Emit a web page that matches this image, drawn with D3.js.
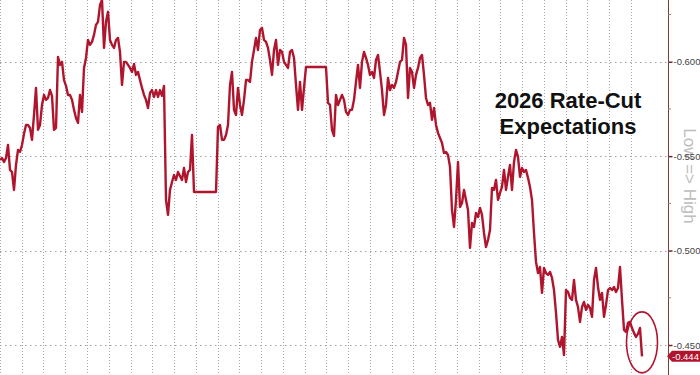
<!DOCTYPE html>
<html>
<head>
<meta charset="utf-8">
<script src="https://cdnjs.cloudflare.com/ajax/libs/d3/7.8.5/d3.min.js"></script>
<style>
  body { margin: 0; background: #fff; }
  svg { display: block; }
</style>
</head>
<body>
<svg id="chart" width="700" height="375"></svg>
<script>
// 2026 rate-cut expectations (samples, ~10.9 per weekly gridline)
var rate = [
  -0.5480, -0.5490, -0.5469, -0.5490, -0.5559, -0.5427, -0.5416, -0.5321, -0.5453, -0.5533,
  -0.5522, -0.5559, -0.5618, -0.5665, -0.5665, -0.5649, -0.5586, -0.5718, -0.5861, -0.5639,
  -0.5665, -0.5771, -0.5824, -0.5798, -0.5808, -0.5850, -0.5819, -0.5639, -0.5649, -0.6025,
  -0.5983, -0.5999, -0.5903, -0.5872, -0.5824, -0.5824, -0.5798, -0.5745, -0.5702, -0.5676,
  -0.5824, -0.5734, -0.5967, -0.6020, -0.6115, -0.6089, -0.6105, -0.6142, -0.6195, -0.6211,
  -0.6300, -0.6327, -0.6073, -0.6211, -0.6264, -0.6115, -0.6089, -0.6073, -0.6115, -0.6126,
  -0.6052, -0.5877, -0.5999, -0.5999, -0.5983, -0.5967, -0.5946, -0.5988, -0.5930, -0.5946,
  -0.5903, -0.5861, -0.5824, -0.5798, -0.5755, -0.5835, -0.5850, -0.5813, -0.5850, -0.5813,
  -0.5850, -0.5819, -0.5872, -0.5268, -0.5189, -0.5321, -0.5363, -0.5400, -0.5374, -0.5416,
  -0.5395, -0.5374, -0.5437, -0.5363, -0.5416, -0.5427, -0.5612, -0.5310, -0.5310, -0.5310,
  -0.5310, -0.5310, -0.5310, -0.5310, -0.5310, -0.5310, -0.5310, -0.5310, -0.5310, -0.5655,
  -0.5665, -0.5586, -0.5586, -0.5612, -0.5665, -0.5877, -0.5946, -0.5745, -0.5718, -0.5861,
  -0.5771, -0.5718, -0.5798, -0.5903, -0.5903, -0.5893, -0.5999, -0.6062, -0.6126, -0.6062,
  -0.6168, -0.6179, -0.6115, -0.6105, -0.6073, -0.6009, -0.5930, -0.6062, -0.6115, -0.5983,
  -0.6062, -0.6052, -0.5999, -0.5983, -0.5967, -0.6052, -0.6062, -0.6020, -0.5877, -0.5745,
  -0.5893, -0.5745, -0.5861, -0.5972, -0.5972, -0.5972, -0.5972, -0.5972, -0.5972, -0.5972,
  -0.5972, -0.5972, -0.5972, -0.5972, -0.5782, -0.5771, -0.5639, -0.5607, -0.5824, -0.5771,
  -0.5798, -0.5824, -0.5798, -0.5734, -0.5718, -0.5745, -0.5745, -0.5798, -0.5893, -0.5983,
  -0.5861, -0.5999, -0.6052, -0.6020, -0.5983, -0.5930, -0.5946, -0.5914, -0.6009, -0.6036,
  -0.5946, -0.5850, -0.5718, -0.5771, -0.5914, -0.5850, -0.5877, -0.5861, -0.5893, -0.5946,
  -0.5999, -0.6009, -0.6126, -0.6089, -0.5808, -0.5967, -0.5946, -0.5861, -0.5930, -0.5967,
  -0.6020, -0.6036, -0.5930, -0.5808, -0.5771, -0.5782, -0.5692, -0.5755, -0.5665, -0.5623,
  -0.5596, -0.5570, -0.5517, -0.5522, -0.5506, -0.5443, -0.5215, -0.5125, -0.5268, -0.5469,
  -0.5231, -0.5252, -0.5321, -0.5268, -0.5215, -0.5014, -0.5146, -0.5125, -0.5199, -0.5178,
  -0.5226, -0.5189, -0.5093, -0.5019, -0.5056, -0.5109, -0.5332, -0.5321, -0.5374, -0.5268,
  -0.5305, -0.5337, -0.5427, -0.5321, -0.5390, -0.5453, -0.5321, -0.5469, -0.5533, -0.5496,
  -0.5390, -0.5437, -0.5416, -0.5427, -0.5385, -0.5337, -0.5268, -0.5093, -0.4940, -0.4881,
  -0.4913, -0.4776, -0.4908, -0.4881, -0.4871, -0.4887, -0.4855, -0.4791, -0.4670, -0.4527,
  -0.4490, -0.4543, -0.4447, -0.4791, -0.4781, -0.4749, -0.4739, -0.4844, -0.4739, -0.4701,
  -0.4622, -0.4701, -0.4728, -0.4686, -0.4712, -0.4696, -0.4649, -0.4844, -0.4908, -0.4807,
  -0.4739, -0.4776, -0.4649, -0.4712, -0.4791, -0.4802, -0.4791, -0.4807, -0.4781, -0.4802,
  -0.4913, -0.4739, -0.4580, -0.4569, -0.4617, -0.4622, -0.4590, -0.4564, -0.4543, -0.4559,
  -0.4590, -0.4440
];

var samplesPerWeek = 10.875;
var weekCount = 30;
var majorTicks = [-0.600, -0.550, -0.500, -0.450];
var minorTicks = [-0.625, -0.575, -0.525, -0.475];
var titleLines = ["2026 Rate-Cut", "Expectations"];
var axisTitle = "Low => High";

var width = 700, height = 375;
var plotRight = 668;
var red = "#b0152e";
var font = "'Liberation Sans', Arial, sans-serif";

var svg = d3.select("#chart");

var x = d3.scaleLinear()
    .domain([0, rate.length - 1])
    .range([0, 642]);

// inverted: lower expectations on top
var y = d3.scaleLinear()
    .domain([-0.600, -0.450])
    .range([61.7, 345]);

// vertical weekly gridlines
svg.append("g")
    .selectAll("line")
    .data(d3.range(0, weekCount))
    .enter().append("line")
    .attr("x1", function (d) { return Math.round(x(d * samplesPerWeek)) + 0.5; })
    .attr("x2", function (d) { return Math.round(x(d * samplesPerWeek)) + 0.5; })
    .attr("y1", 0)
    .attr("y2", height)
    .style("stroke", "#a8a8a8")
    .style("stroke-width", 1)
    .style("stroke-dasharray", "1,2");

// horizontal gridlines
svg.append("g")
    .selectAll("line")
    .data(majorTicks)
    .enter().append("line")
    .attr("x1", 0)
    .attr("x2", plotRight)
    .attr("y1", function (d) { return Math.round(y(d)) + 0.5; })
    .attr("y2", function (d) { return Math.round(y(d)) + 0.5; })
    .style("stroke", "#a0a0a0")
    .style("stroke-width", 1)
    .style("stroke-dasharray", "1.5,3.5");

// title
svg.append("g")
    .selectAll("text")
    .data(titleLines)
    .enter().append("text")
    .attr("x", 568)
    .attr("y", function (d, i) { return 108 + i * 26; })
    .attr("text-anchor", "middle")
    .style("font-family", font)
    .style("font-weight", "bold")
    .style("font-size", "22px")
    .style("fill", "#111")
    .text(function (d) { return d; });

// the series
var line = d3.line()
    .x(function (d, i) { return x(i); })
    .y(function (d) { return y(d); });

svg.append("path")
    .datum(rate)
    .attr("d", line)
    .style("fill", "none")
    .style("stroke", red)
    .style("stroke-width", 2.4)
    .style("stroke-linejoin", "round");

// circle round the last print
var last = rate.length - 1;
svg.append("ellipse")
    .attr("cx", x(last))
    .attr("cy", y(rate[last]) - 14)
    .attr("rx", 15.5)
    .attr("ry", 30.5)
    .style("fill", "none")
    .style("stroke", red)
    .style("stroke-width", 1.6);

// axis title, reads top to bottom (under the tick labels)
svg.append("text")
    .attr("transform", "translate(684,176) rotate(90)")
    .attr("text-anchor", "middle")
    .style("font-family", font)
    .style("font-size", "17px")
    .style("fill", "#bdbdbd")
    .text(axisTitle);

// right axis
var axis = d3.axisRight(y)
    .tickValues(majorTicks)
    .tickSize(4)
    .tickPadding(1)
    .tickFormat(function (d) { return d.toFixed(3); });

var gAxis = svg.append("g")
    .attr("transform", "translate(" + (plotRight + 0.5) + ",0)")
    .call(axis);

gAxis.select(".domain").remove();
gAxis.selectAll(".tick line")
    .style("stroke", "#6b2a2a")
    .style("stroke-width", 1.5);
gAxis.selectAll(".tick text")
    .style("font-family", font)
    .style("font-size", "9.5px")
    .style("fill", "#444");

svg.append("line")
    .attr("x1", plotRight + 0.5)
    .attr("x2", plotRight + 0.5)
    .attr("y1", 0)
    .attr("y2", height)
    .style("stroke", "#7a3c3c")
    .style("stroke-width", 1);

svg.append("g")
    .selectAll("line")
    .data(minorTicks)
    .enter().append("line")
    .attr("x1", plotRight)
    .attr("x2", plotRight + 3)
    .attr("y1", function (d) { return y(d); })
    .attr("y2", function (d) { return y(d); })
    .style("stroke", "#888")
    .style("stroke-width", 1);

// last value label
var ly = y(rate[last]);
svg.append("path")
    .attr("d", "M" + (plotRight - 1) + "," + ly +
        " L" + (plotRight + 4) + "," + (ly - 5.5) +
        " L" + width + "," + (ly - 5.5) +
        " L" + width + "," + (ly + 5.5) +
        " L" + (plotRight + 4) + "," + (ly + 5.5) + " Z")
    .style("fill", red);

svg.append("text")
    .attr("x", plotRight + 4)
    .attr("y", ly + 3.5)
    .style("font-family", font)
    .style("font-size", "9.5px")
    .style("fill", "#fff")
    .text(rate[last].toFixed(3));
</script>
</body>
</html>
